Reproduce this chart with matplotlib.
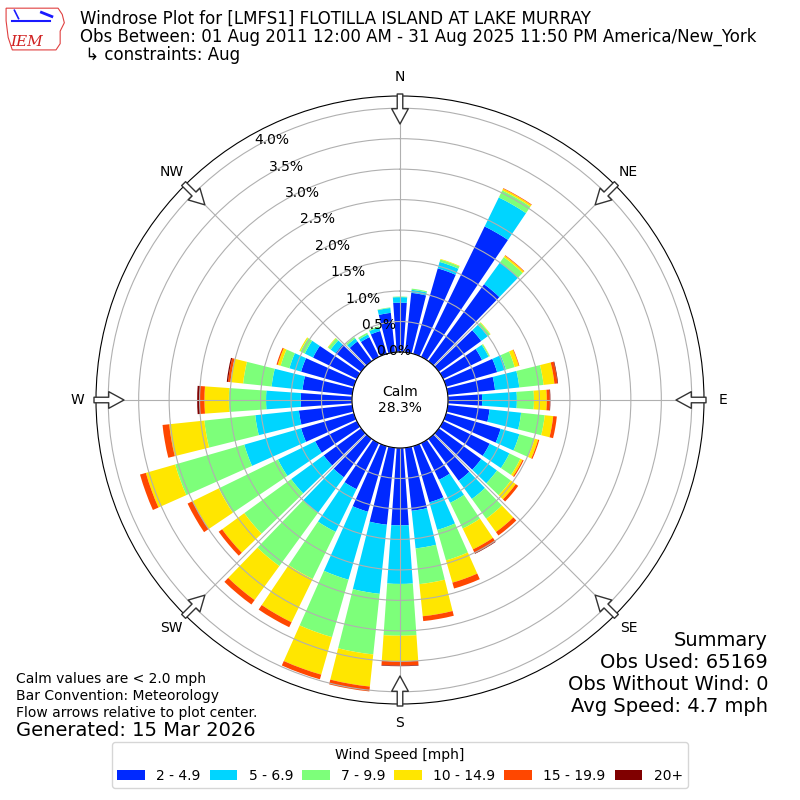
import numpy as np
import matplotlib
matplotlib.use("Agg")
import matplotlib.pyplot as plt
from matplotlib.patches import Patch, Polygon

# wind direction (deg, from north) and frequency [%] per speed bin
directions = np.arange(0, 360, 10)
speed_labels = ["2 - 4.9", "5 - 6.9", "7 - 9.9", "10 - 14.9", "15 - 19.9", "20+"]

spd_2_5 = [0.81, 0.98, 1.46, 2.38, 1.56, 0.86, 0.71, 0.87, 0.78, 0.56, 0.69, 0.93,
           0.85, 0.86, 0.85, 0.67, 0.96, 1.04, 1.27, 1.27, 1.12, 0.84, 0.78, 0.76,
           0.76, 0.90, 0.88, 0.84, 0.82, 0.90, 0.80, 0.52, 0.40, 0.36, 0.39, 0.65]
spd_5_7 = [0.09, 0.05, 0.11, 0.53, 0.44, 0.13, 0.12, 0.15, 0.40, 0.57, 0.52, 0.32,
           0.36, 0.32, 0.37, 0.42, 0.47, 0.62, 0.96, 1.14, 1.16, 0.78, 0.72, 0.66,
           0.68, 0.97, 0.72, 0.57, 0.51, 0.20, 0.15, 0.10, 0.06, 0.05, 0.06, 0.08]
spd_7_10 = [0.01, 0.02, 0.04, 0.13, 0.11, 0.05, 0.02, 0.15, 0.40, 0.28, 0.39, 0.26,
            0.20, 0.28, 0.40, 0.47, 0.52, 0.59, 0.85, 1.00, 0.98, 0.86, 1.08, 0.95,
            1.08, 1.18, 0.84, 0.61, 0.47, 0.15, 0.08, 0.05, 0.03, 0.03, 0.02, 0.01]
spd_10_15 = [0.0, 0.0, 0.01, 0.03, 0.03, 0.01, 0.005, 0.07, 0.18, 0.21, 0.14, 0.06,
             0.04, 0.10, 0.27, 0.38, 0.38, 0.53, 0.42, 0.53, 0.64, 0.79, 0.69, 0.45,
             0.48, 0.50, 0.58, 0.40, 0.21, 0.05, 0.02, 0.01, 0.0, 0.0, 0.0, 0.0]
spd_15_20 = [0.0, 0.0, 0.0, 0.01, 0.01, 0.0, 0.0, 0.01, 0.05, 0.05, 0.06, 0.02,
             0.02, 0.05, 0.07, 0.07, 0.10, 0.08, 0.07, 0.08, 0.08, 0.09, 0.09, 0.07,
             0.09, 0.10, 0.11, 0.08, 0.04, 0.02, 0.0, 0.0, 0.0, 0.0, 0.0, 0.0]
spd_20 = [0.0, 0.0, 0.0, 0.0, 0.0, 0.0, 0.0, 0.0, 0.01, 0.01, 0.0, 0.0,
          0.0, 0.0, 0.0, 0.01, 0.0, 0.0, 0.01, 0.0, 0.0, 0.0, 0.0, 0.0,
          0.0, 0.0, 0.0, 0.04, 0.02, 0.0, 0.0, 0.0, 0.0, 0.0, 0.0, 0.0]

calm_pct = 28.3
rmax = 4.2
rorigin = -0.7875

series = [spd_2_5, spd_5_7, spd_7_10, spd_10_15, spd_15_20, spd_20]
colors = plt.cm.jet(np.arange(1, 7) / 6.0)

fig = plt.figure(figsize=(8, 8), dpi=100)
ax = fig.add_axes([0.12, 0.12, 0.76, 0.76], projection="polar")
ax.set_theta_zero_location("N")
ax.set_theta_direction(-1)

theta = np.deg2rad(directions)
base = np.zeros(len(directions))
for vals, c in zip(series, colors):
    vals = np.array(vals)
    ax.bar(theta, vals, width=np.deg2rad(8), bottom=base, color=c, linewidth=0)
    base += vals

ax.set_ylim(0, rmax)
ax.set_rorigin(rorigin)
ax.set_yticks(np.arange(0, 4.01, 0.5))
ax.set_yticklabels([])
ax.set_xticks(np.deg2rad(np.arange(0, 360, 45)))
ax.set_xticklabels([])
ax.grid(True, color="#b0b0b0", linewidth=0.8)

# radial labels
for r in np.arange(0, 4.01, 0.5):
    ax.text(np.deg2rad(330), r, "%.1f%%" % r, ha="left", va="bottom", fontsize=10)

# direction labels + flow arrows
span = rmax - rorigin
r_lab = rorigin + 323 / 304 * span
r_out = rorigin + 306 / 304 * span
r_in = rorigin + 276 / 304 * span
for ang, lab in zip(range(0, 360, 45), ["N", "NE", "E", "SE", "S", "SW", "W", "NW"]):
    th = np.deg2rad(ang)
    ax.text(th, r_lab, lab, ha="center", va="center", fontsize=10)
    ax.annotate("", xy=(th, r_in), xytext=(th, r_out), annotation_clip=False,
                arrowprops=dict(facecolor="white", edgecolor="#333333", lw=1,
                                width=4, headwidth=12, headlength=11))

ax.text(0.5, 0.5, "Calm\n%.1f%%" % calm_pct, transform=ax.transAxes,
        ha="center", va="center", fontsize=10)

# header
fig.text(0.1, 0.976, "Windrose Plot for [LMFS1] FLOTILLA ISLAND AT LAKE MURRAY",
         fontsize=12, va="center")
fig.text(0.1, 0.954, "Obs Between: 01 Aug 2011 12:00 AM - 31 Aug 2025 11:50 PM America/New_York",
         fontsize=12, va="center")
fig.text(0.1, 0.931, " \u21b3 constraints: Aug", fontsize=12, va="center")

# IEM logo (rough)
lax = fig.add_axes([0.005, 0.935, 0.078, 0.06])
lax.set_xlim(0, 60)
lax.set_ylim(0, 46)
lax.axis("off")
lax.add_patch(Polygon([[2, 42], [52, 42], [56, 36], [58, 28], [54, 20], [54, 8],
                       [50, 2], [8, 2], [4, 14], [2, 30]],
                      closed=True, fill=False, edgecolor="#e04040", lw=0.8))
lax.plot([8, 30, 44], [30, 30, 30], color="#1a1aff", lw=1.5)
lax.plot([10, 14], [40, 32], color="#1a1aff", lw=1.2)
lax.plot([36, 46], [38, 34], color="#1a1aff", lw=2)
lax.text(22, 10, "IEM", color="#d02020", fontsize=11, family="DejaVu Serif",
         style="italic", ha="center", va="center")

# summary
fig.text(0.96, 0.2, "Summary", ha="right", va="center", fontsize=14)
fig.text(0.96, 0.1725, "Obs Used: 65169", ha="right", va="center", fontsize=14)
fig.text(0.96, 0.145, "Obs Without Wind: 0", ha="right", va="center", fontsize=14)
fig.text(0.96, 0.1175, "Avg Speed: 4.7 mph", ha="right", va="center", fontsize=14)

fig.text(0.02, 0.151, "Calm values are < 2.0 mph", va="center", fontsize=10)
fig.text(0.02, 0.13, "Bar Convention: Meteorology", va="center", fontsize=10)
fig.text(0.02, 0.109, "Flow arrows relative to plot center.", va="center", fontsize=10)
fig.text(0.02, 0.0875, "Generated: 15 Mar 2026", va="center", fontsize=14)

handles = [Patch(facecolor=c) for c in colors]
fig.legend(handles, speed_labels, loc="lower center", bbox_to_anchor=(0.5, 0.006),
           ncol=6, title="Wind Speed [mph]", fontsize=10, title_fontsize=10,
           columnspacing=0.65)

fig.savefig("out.png", dpi=100)
plt.close(fig)
